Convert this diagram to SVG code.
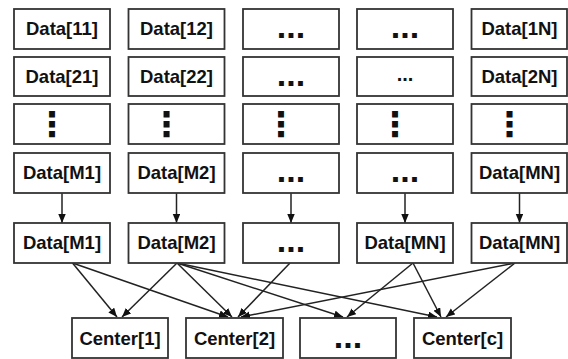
<svg xmlns="http://www.w3.org/2000/svg" width="568" height="359" viewBox="0 0 568 359">
<style>
.box{fill:#fff;stroke:#333;stroke-width:1.8}
.t{font-family:"Liberation Sans",Arial,sans-serif;font-weight:bold;font-size:18.5px;fill:#111;text-anchor:middle}
.d{font-family:"Liberation Sans",Arial,sans-serif;font-weight:bold;font-size:34px;fill:#111;text-anchor:middle}
.s{font-family:"Liberation Sans",Arial,sans-serif;font-weight:bold;font-size:20px;fill:#111;text-anchor:middle}
.v{font-family:"DejaVu Sans",sans-serif;font-weight:bold;font-size:34px;fill:#111;text-anchor:middle}
.c{stroke:#222;stroke-width:1.5;fill:none;marker-end:url(#ah)}
</style>
<defs>
<marker id="ah" markerUnits="userSpaceOnUse" markerWidth="10" markerHeight="8" refX="9" refY="3.75" orient="auto">
<path d="M0,0 L9,3.75 L0,7.5 z" fill="#111"/>
</marker>
</defs>
<rect width="568" height="359" fill="#fff"/>
<g id="connectors">
<line class="c" x1="62" y1="193" x2="62" y2="223"/>
<line class="c" x1="176.5" y1="193" x2="176.5" y2="223"/>
<line class="c" x1="291" y1="193" x2="291" y2="223"/>
<line class="c" x1="405" y1="193" x2="405" y2="223"/>
<line class="c" x1="519.5" y1="193" x2="519.5" y2="223"/>
<line class="c" x1="72.5" y1="263" x2="117" y2="317"/>
<line class="c" x1="72.5" y1="263" x2="228" y2="317"/>
<line class="c" x1="177" y1="263" x2="122" y2="317"/>
<line class="c" x1="177" y1="263" x2="232" y2="317"/>
<line class="c" x1="177" y1="263" x2="343" y2="317"/>
<line class="c" x1="177" y1="263" x2="437" y2="317"/>
<line class="c" x1="290" y1="263" x2="238" y2="317"/>
<line class="c" x1="413" y1="263" x2="347" y2="317"/>
<line class="c" x1="413" y1="263" x2="441" y2="317"/>
<line class="c" x1="515" y1="263" x2="446" y2="317"/>
<line class="c" x1="515" y1="263" x2="241" y2="317"/>
</g>
<g id="d11"><rect class="box" x="14" y="9" width="96" height="40"/><text class="t" x="62" y="35">Data[11]</text></g>
<g id="d12"><rect class="box" x="128.5" y="9" width="96" height="40"/><text class="t" x="176.5" y="35">Data[12]</text></g>
<g id="d13"><rect class="box" x="243" y="9" width="96" height="40"/><text class="d" x="291" y="37.5">...</text></g>
<g id="d14"><rect class="box" x="357" y="9" width="96" height="40"/><text class="d" x="405" y="37.5">...</text></g>
<g id="d1N"><rect class="box" x="471.5" y="9" width="95.5" height="40"/><text class="t" x="519.5" y="35">Data[1N]</text></g>
<g id="d21"><rect class="box" x="14" y="57" width="96" height="39"/><text class="t" x="62" y="82.5">Data[21]</text></g>
<g id="d22"><rect class="box" x="128.5" y="57" width="96" height="39"/><text class="t" x="176.5" y="82.5">Data[22]</text></g>
<g id="d23"><rect class="box" x="243" y="57" width="96" height="39"/><text class="d" x="291" y="85.5">...</text></g>
<g id="d24"><rect class="box" x="357" y="57" width="96" height="39"/><text class="s" x="405" y="81">...</text></g>
<g id="d2N"><rect class="box" x="471.5" y="57" width="95.5" height="39"/><text class="t" x="519.5" y="82.5">Data[2N]</text></g>
<g id="d31"><rect class="box" x="14" y="104" width="96" height="40"/><text class="v" x="52" y="136">⋮</text></g>
<g id="d32"><rect class="box" x="128.5" y="104" width="96" height="40"/><text class="v" x="166.5" y="136">⋮</text></g>
<g id="d33"><rect class="box" x="243" y="104" width="96" height="40"/><text class="v" x="281" y="136">⋮</text></g>
<g id="d34"><rect class="box" x="357" y="104" width="96" height="40"/><text class="v" x="395" y="136">⋮</text></g>
<g id="d3N"><rect class="box" x="471.5" y="104" width="95.5" height="40"/><text class="v" x="509.5" y="136">⋮</text></g>
<g id="dM1"><rect class="box" x="14" y="153" width="96" height="40"/><text class="t" x="62" y="179">Data[M1]</text></g>
<g id="dM2"><rect class="box" x="128.5" y="153" width="96" height="40"/><text class="t" x="176.5" y="179">Data[M2]</text></g>
<g id="dM3"><rect class="box" x="243" y="153" width="96" height="40"/><text class="d" x="291" y="181.5">...</text></g>
<g id="dM4"><rect class="box" x="357" y="153" width="96" height="40"/><text class="d" x="405" y="181.5">...</text></g>
<g id="dMN"><rect class="box" x="471.5" y="153" width="95.5" height="40"/><text class="t" x="519.5" y="179">Data[MN]</text></g>
<g id="eM1"><rect class="box" x="14" y="223" width="96" height="40"/><text class="t" x="62" y="249">Data[M1]</text></g>
<g id="eM2"><rect class="box" x="128.5" y="223" width="96" height="40"/><text class="t" x="176.5" y="249">Data[M2]</text></g>
<g id="eM3"><rect class="box" x="243" y="223" width="96" height="40"/><text class="d" x="291" y="251.5">...</text></g>
<g id="eM4"><rect class="box" x="357" y="223" width="96" height="40"/><text class="t" x="405" y="249">Data[MN]</text></g>
<g id="eMN"><rect class="box" x="471.5" y="223" width="95.5" height="40"/><text class="t" x="519.5" y="249">Data[MN]</text></g>
<g id="c1"><rect class="box" x="72" y="318" width="96" height="40"/><text class="t" x="120" y="344.5">Center[1]</text></g>
<g id="c2"><rect class="box" x="186" y="318" width="97" height="40"/><text class="t" x="234.5" y="344.5">Center[2]</text></g>
<g id="c3"><rect class="box" x="300" y="318" width="96" height="40"/><text class="d" x="348" y="347.5">...</text></g>
<g id="cc"><rect class="box" x="414" y="318" width="97" height="40"/><text class="t" x="462.5" y="344.5">Center[c]</text></g>
</svg>
